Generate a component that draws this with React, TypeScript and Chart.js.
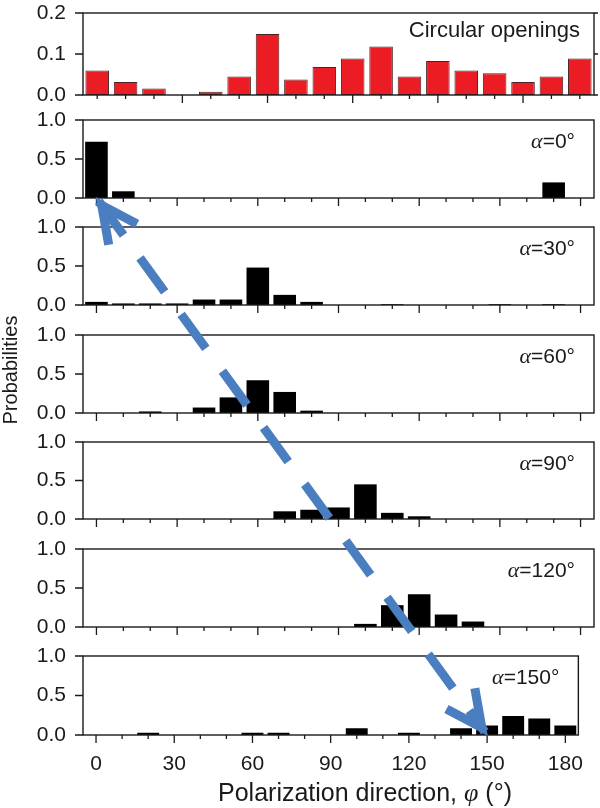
import React, { useEffect, useRef } from 'react';
import { Chart, registerables } from 'chart.js';

Chart.register(...registerables);

// ---------- data ----------
const circularBins = ['0', '10.6', '21.2', '31.8', '42.4', '52.9', '63.5', '74.1', '84.7', '95.3', '105.9', '116.5', '127.1', '137.6', '148.2', '158.8', '169.4', '180'];
const circularOpenings = [0.06, 0.032, 0.016, 0, 0.008, 0.045, 0.149, 0.038, 0.068, 0.089, 0.118, 0.045, 0.083, 0.06, 0.053, 0.032, 0.045, 0.089];

const phiBins = ['0', '10', '20', '30', '40', '50', '60', '70', '80', '90', '100', '110', '120', '130', '140', '150', '160', '170', '180'];
const alphaAngles = [0, 30, 60, 90, 120, 150];
const probAlpha0 = [0.72, 0.086, 0, 0, 0, 0, 0, 0, 0, 0, 0, 0, 0, 0, 0, 0, 0, 0.2, 0];
const probAlpha30 = [0.04, 0.02, 0.02, 0.02, 0.07, 0.07, 0.48, 0.13, 0.04, 0, 0, 0.01, 0, 0, 0, 0.01, 0, 0.01, 0];
const probAlpha60 = [0, 0, 0.02, 0, 0.07, 0.2, 0.42, 0.27, 0.03, 0, 0, 0, 0, 0, 0, 0, 0, 0, 0];
const probAlpha90 = [0, 0, 0, 0, 0, 0, 0, 0.1, 0.12, 0.15, 0.45, 0.08, 0.035, 0, 0, 0, 0, 0, 0];
const probAlpha120 = [0, 0, 0, 0, 0, 0, 0, 0, 0, 0, 0.04, 0.28, 0.42, 0.16, 0.07, 0, 0, 0, 0];
const probAlpha150 = [0, 0, 0.03, 0, 0, 0, 0.03, 0.03, 0, 0, 0.085, 0, 0.03, 0, 0.085, 0.12, 0.24, 0.21, 0.12];
const probabilityRows = [probAlpha0, probAlpha30, probAlpha60, probAlpha90, probAlpha120, probAlpha150];

const xTickLabels = ['0', '30', '60', '90', '120', '150', '180'];
const circularMax = 0.2;
const probMax = 1.0;

const circularTitle = 'Circular openings';
const yTitle = 'Probabilities';
const xTitleMain = 'Polarization direction, ';
const xTitleSymbol = 'φ';
const xTitleUnit = ' (°)';

// arrow: from (alpha = 0°, phi = 0°) to (alpha = 150°, phi = 150°)
const arrowStart = { alpha: 0, phi: '0' };
const arrowEnd = { alpha: 150, phi: '150' };

// ---------- layout & style ----------
const W = 600;
const H = 808;
const PLOT_LEFT = 83;
const PLOT_RIGHT = 594;
const PANEL_TOPS = [13, 120, 227, 335, 442, 549, 656];
const PANEL_HEIGHTS = [82, 78, 78, 78, 77, 78, 79];
const PAD_TOP = 32;
const PAD_BOTTOM = [32, 32, 32, 32, 32, 32, 46];

const SANS = '"Liberation Sans", Arial, Helvetica, sans-serif';
const SERIF = '"Liberation Serif", "DejaVu Serif", serif';
const INK = '#1a1a1a';
const RED = '#EC1C24';
const RED_EDGE = '#4a2424';
const BLUE = '#4A7EC0';
const TICK_FONT_SIZE = 21;

function drawSegments(ctx: CanvasRenderingContext2D, segs: { t: string; f: string }[], xRight: number, y: number) {
  let total = 0;
  segs.forEach((s) => {
    ctx.font = s.f;
    total += ctx.measureText(s.t).width;
  });
  let x = xRight - total;
  segs.forEach((s) => {
    ctx.font = s.f;
    ctx.fillText(s.t, x, y);
    x += ctx.measureText(s.t).width;
  });
}

function makeDecorPlugin(i: number) {
  const isTop = i === 0;
  const labels = isTop ? circularBins : phiBins;
  return {
    id: 'panelDecor' + i,
    afterDatasetsDraw(chart: any) {
      const { ctx, chartArea: a } = chart;
      const xs = chart.scales.x;
      const ys = chart.scales.y;
      ctx.save();
      ctx.strokeStyle = INK;
      ctx.lineWidth = 1.4;
      ctx.strokeRect(a.left, a.top, a.right - a.left, a.bottom - a.top);
      ctx.beginPath();
      ctx.lineWidth = 1.3;
      xs.ticks.forEach((_t: any, idx: number) => {
        const px = xs.getPixelForTick(idx);
        const major = isTop ? idx % 3 === 0 && idx > 0 : xTickLabels.includes(labels[idx]);
        ctx.moveTo(px, a.bottom);
        ctx.lineTo(px, a.bottom + (major ? 8 : 4));
      });
      ys.ticks.forEach((t: any) => {
        const py = ys.getPixelForValue(t.value);
        const major = isTop || Math.abs(t.value * 2 - Math.round(t.value * 2)) < 1e-6;
        ctx.moveTo(a.left, py);
        ctx.lineTo(a.left - (major ? 8 : 4), py);
        if (isTop) {
          ctx.moveTo(a.right, py);
          ctx.lineTo(a.right + 4, py);
        }
      });
      ctx.stroke();

      ctx.fillStyle = INK;
      ctx.textBaseline = 'middle';
      ctx.textAlign = 'left';
      if (isTop) {
        drawSegments(ctx, [{ t: circularTitle, f: `22px ${SANS}` }], a.right - 14, a.top + 18);
      } else {
        const alpha = alphaAngles[i - 1];
        drawSegments(
          ctx,
          [
            { t: 'α', f: `italic 22px ${SERIF}` },
            { t: '=' + alpha + '°', f: `21px ${SANS}` },
          ],
          a.right - 19,
          a.top + 22
        );
      }
      ctx.restore();
    },
  };
}

function makeConfig(i: number): any {
  const isTop = i === 0;
  const isLast = i === PANEL_TOPS.length - 1;
  const labels = isTop ? circularBins : phiBins;
  const data = isTop ? circularOpenings : probabilityRows[i - 1];
  return {
    type: 'bar',
    data: {
      labels,
      datasets: [
        {
          data,
          backgroundColor: isTop ? RED : '#000',
          borderColor: isTop ? RED_EDGE : '#000',
          borderWidth: (c: any) => (isTop && c.raw > 0 ? 1 : 0),
          borderSkipped: false,
          categoryPercentage: 1,
          barPercentage: isTop ? 0.83 : 0.84,
        },
      ],
    },
    options: {
      responsive: false,
      animation: false,
      events: [],
      layout: { padding: { top: PAD_TOP, right: W - PLOT_RIGHT, left: 0, bottom: 0 } },
      plugins: { legend: { display: false }, tooltip: { enabled: false }, title: { display: false } },
      scales: {
        x: {
          type: 'category',
          offset: true,
          grid: { display: false, drawTicks: false },
          border: { display: false },
          ticks: {
            display: isLast,
            autoSkip: false,
            maxRotation: 0,
            minRotation: 0,
            padding: 17,
            color: INK,
            font: { family: SANS, size: TICK_FONT_SIZE },
            callback: (_v: any, idx: number) => (xTickLabels.includes(labels[idx]) ? labels[idx] : ''),
          },
          afterFit: (s: any) => {
            s.height = PAD_BOTTOM[i];
          },
        },
        y: {
          min: 0,
          max: isTop ? circularMax : probMax,
          grid: { display: false, drawTicks: false },
          border: { display: false },
          ticks: {
            stepSize: isTop ? 0.1 : 0.25,
            padding: 17,
            color: INK,
            font: { family: SANS, size: TICK_FONT_SIZE },
            callback: (v: any) => {
              const n = Number(v);
              if (isTop) return n.toFixed(1);
              return Math.abs(n * 2 - Math.round(n * 2)) < 1e-6 ? n.toFixed(1) : '';
            },
          },
          afterFit: (s: any) => {
            s.width = PLOT_LEFT;
          },
        },
      },
    },
    plugins: [makeDecorPlugin(i)],
  };
}

function drawOverlay(canvas: HTMLCanvasElement, charts: Chart[]) {
  const ctx = canvas.getContext('2d')!;
  ctx.clearRect(0, 0, W, H);

  const pointFor = (alpha: number, phi: string) => {
    const idx = alphaAngles.indexOf(alpha) + 1;
    const ch: any = charts[idx];
    return {
      x: ch.scales.x.getPixelForValue(phiBins.indexOf(phi)),
      y: ch.scales.y.getPixelForValue(0) + PANEL_TOPS[idx] - PAD_TOP,
    };
  };
  const p0 = pointFor(arrowStart.alpha, arrowStart.phi);
  const p1 = pointFor(arrowEnd.alpha, arrowEnd.phi);
  const dx = p1.x - p0.x;
  const dy = p1.y - p0.y;
  const len = Math.hypot(dx, dy);
  const ux = dx / len;
  const uy = dy / len;

  ctx.save();
  ctx.strokeStyle = BLUE;
  ctx.lineWidth = 9;
  ctx.lineCap = 'butt';
  ctx.setLineDash([42, 28]);
  ctx.beginPath();
  ctx.moveTo(p0.x + ux * 4, p0.y + uy * 4);
  ctx.lineTo(p1.x - ux * 4, p1.y - uy * 4);
  ctx.stroke();

  ctx.setLineDash([]);
  ctx.lineJoin = 'miter';
  const armLen = 40;
  const ang = (26 * Math.PI) / 180;
  const chevron = (tx: number, ty: number, bx: number, by: number) => {
    const ax1 = bx * Math.cos(ang) - by * Math.sin(ang);
    const ay1 = bx * Math.sin(ang) + by * Math.cos(ang);
    const ax2 = bx * Math.cos(-ang) - by * Math.sin(-ang);
    const ay2 = bx * Math.sin(-ang) + by * Math.cos(-ang);
    const sx = tx + bx * 9;
    const sy = ty + by * 9;
    ctx.beginPath();
    ctx.moveTo(sx + ax1 * armLen, sy + ay1 * armLen);
    ctx.lineTo(sx, sy);
    ctx.lineTo(sx + ax2 * armLen, sy + ay2 * armLen);
    ctx.stroke();
  };
  chevron(p0.x, p0.y, ux, uy);
  chevron(p1.x, p1.y, -ux, -uy);
  ctx.restore();

  // axis titles
  ctx.save();
  ctx.fillStyle = INK;
  ctx.textBaseline = 'alphabetic';
  ctx.textAlign = 'left';
  const fMain = `25px ${SANS}`;
  const fSym = `italic 26px ${SERIF}`;
  ctx.font = fMain;
  const w1 = ctx.measureText(xTitleMain).width;
  const w3 = ctx.measureText(xTitleUnit).width;
  ctx.font = fSym;
  const w2 = ctx.measureText(xTitleSymbol).width;
  const total = w1 + w2 + w3;
  const cx = 365;
  let x = cx - total / 2;
  const by = 801;
  ctx.font = fMain;
  ctx.fillText(xTitleMain, x, by);
  x += w1;
  ctx.font = fSym;
  ctx.fillText(xTitleSymbol, x, by);
  x += w2;
  ctx.font = fMain;
  ctx.fillText(xTitleUnit, x, by);

  ctx.translate(17, 370);
  ctx.rotate(-Math.PI / 2);
  ctx.textAlign = 'center';
  ctx.font = `20px ${SANS}`;
  ctx.fillText(yTitle, 0, 0);
  ctx.restore();
}

export default function App() {
  const canvasRefs = useRef<(HTMLCanvasElement | null)[]>([]);
  const overlayRef = useRef<HTMLCanvasElement | null>(null);

  useEffect(() => {
    const charts = PANEL_TOPS.map((_, i) => new Chart(canvasRefs.current[i] as HTMLCanvasElement, makeConfig(i)));
    if (overlayRef.current) drawOverlay(overlayRef.current, charts);
    return () => {
      charts.forEach((c) => c.destroy());
    };
  }, []);

  return (
    <div style={{ position: 'absolute', left: 0, top: 0, width: W, height: H, background: '#fff', overflow: 'hidden' }}>
      {PANEL_TOPS.map((t, i) => {
        const h = PAD_TOP + PANEL_HEIGHTS[i] + PAD_BOTTOM[i];
        return (
          <canvas
            key={i}
            ref={(el) => {
              canvasRefs.current[i] = el;
            }}
            width={W}
            height={h}
            style={{ position: 'absolute', left: 0, top: t - PAD_TOP, width: W, height: h }}
          />
        );
      })}
      <canvas
        ref={overlayRef}
        width={W}
        height={H}
        style={{ position: 'absolute', left: 0, top: 0, width: W, height: H, pointerEvents: 'none' }}
      />
    </div>
  );
}
